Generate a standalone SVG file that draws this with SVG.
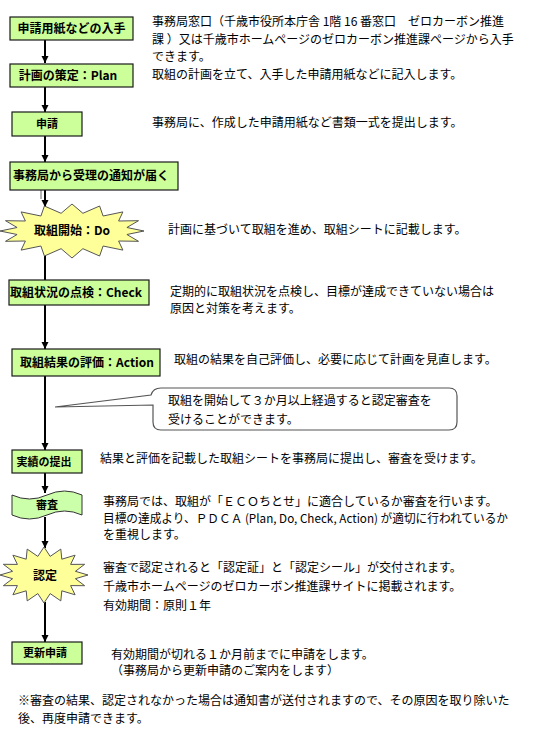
<svg xmlns="http://www.w3.org/2000/svg" width="534" height="729" viewBox="0 0 534 729">
<defs>
<marker id="arr" markerUnits="userSpaceOnUse" markerWidth="8" markerHeight="8" refX="7" refY="4" orient="auto">
<path d="M0,0.5 L7,4 L0,7.5 z" fill="#000"/>
</marker>
<style>
.box{fill:#ccff99;stroke:#1a1a1a;stroke-width:1.2}
.wave{fill:#ccffaa;stroke:#333;stroke-width:1}
.star{fill:#ffff99;stroke:#555;stroke-width:1}
.lbl{font-family:"Noto Sans CJK JP","Liberation Sans",sans-serif;font-weight:bold;font-size:12px;fill:#000;text-anchor:middle}
.sm{font-size:11px}
.t{font-family:"Noto Sans CJK JP","Liberation Sans",sans-serif;font-size:12px;fill:#000}
.con{stroke:#000;stroke-width:2;fill:none}
</style>
</defs>
<rect width="534" height="729" fill="#fff"/>

<g id="connectors">
<line class="con" x1="45" y1="40" x2="45" y2="63" marker-end="url(#arr)"/>
<line class="con" x1="45" y1="87" x2="45" y2="112" marker-end="url(#arr)"/>
<line class="con" x1="45" y1="136" x2="45" y2="162" marker-end="url(#arr)"/>
<line class="con" x1="45" y1="190" x2="45" y2="207" marker-end="url(#arr)"/>
<line x1="41" y1="188" x2="41" y2="199" stroke="#444" stroke-width="0.8"/>
<line class="con" x1="45" y1="256" x2="45" y2="280"/>
<line class="con" x1="45" y1="305" x2="45" y2="349" marker-end="url(#arr)"/>
<line class="con" x1="45" y1="376" x2="45" y2="450" marker-end="url(#arr)"/>
<line class="con" x1="45" y1="473" x2="45" y2="493" marker-end="url(#arr)"/>
<line class="con" x1="45" y1="517" x2="45" y2="548" marker-end="url(#arr)"/>
<line class="con" x1="45" y1="602" x2="45" y2="642" marker-end="url(#arr)"/>
</g>

<g id="n1">
<rect class="box" x="10" y="17" width="123" height="23"/>
<text class="lbl" x="71.5" y="33">申請用紙などの入手</text>
</g>
<g id="n2">
<rect class="box" x="10" y="64" width="123" height="23"/>
<text class="lbl" x="68" y="80">計画の策定：Plan</text>
</g>
<g id="n3">
<rect class="box" x="12" y="112" width="70" height="24"/>
<text class="lbl sm" x="47" y="128">申請</text>
</g>
<g id="n4">
<rect class="box" x="10" y="162" width="168" height="28"/>
<text class="lbl" x="91" y="180">事務局から受理の通知が届く</text>
</g>
<g id="n5">
<polygon class="star" points="144,231 126.9,234.5 138.5,241.3 118.6,241 122.9,250.1 103.1,246 99.6,256 82.9,248.7 72,258 61.1,248.7 44.4,256 40.9,246 21.1,250.1 25.4,241 5.5,241.3 17.1,234.5 0,231 17.1,227.5 5.5,220.7 25.4,221 21.1,211.9 40.9,216 44.4,206 61.1,213.3 72,204 82.9,213.3 99.6,206 103.1,216 122.9,211.9 118.6,221 138.5,220.7 126.9,227.5"/>
<text class="lbl" x="72" y="235">取組開始：Do</text>
</g>
<g id="n6">
<rect class="box" x="9" y="280" width="140" height="25"/>
<text class="lbl" x="76" y="297">取組状況の点検：Check</text>
</g>
<g id="n7">
<rect class="box" x="12" y="349" width="148" height="27"/>
<text class="lbl" x="87" y="367">取組結果の評価：Action</text>
</g>
<g id="callout">
<path d="M161,388 H449 Q457,388 457,396 V422 Q457,430 449,430 H161 Q153,430 153,422 V405 L55,407 L151,395 Q153,388 161,388 Z" fill="#fff" stroke="#555" stroke-width="1.2"/>
<text class="t" x="168" y="405">取組を開始して３か月以上経過すると認定審査を</text>
<text class="t" x="168" y="424">受けることができます。</text>
</g>
<g id="n8">
<rect class="box" x="12" y="450" width="70" height="23"/>
<text class="lbl sm" x="44" y="466">実績の提出</text>
</g>
<g id="n9">
<path class="wave" d="M12,495 Q29.5,503 47,495 T82,495 L82,515 Q64.5,507 47,515 T12,515 Z"/>
<text class="lbl sm" x="47" y="509">審査</text>
</g>
<g id="n10">
<polygon class="star" points="88,575 75.4,578.7 84.65,585.7 70.6,585.6 75.1,594.8 61.8,590.8 60.8,600.9 50.2,593.6 44,603 37.8,593.6 27.2,600.9 26.2,590.8 12.9,594.8 17.4,585.6 3.35,585.7 12.6,578.7 0,575 12.6,571.3 3.35,564.3 17.4,564.4 12.9,555.2 26.2,559.2 27.2,549.1 37.8,556.4 44,547 50.2,556.4 60.8,549.1 61.8,559.2 75.1,555.2 70.6,564.4 84.65,564.3 75.4,571.3"/>
<text class="lbl" x="45" y="580">認定</text>
</g>
<g id="n11">
<rect class="box" x="12" y="642" width="70" height="22"/>
<text class="lbl sm" x="45" y="657">更新申請</text>
</g>

<g id="texts">
<text class="t" x="152" y="26">事務局窓口（千歳市役所本庁舎 1階 16 番窓口　ゼロカーボン推進</text>
<text class="t" x="152" y="44">課 ）又は千歳市ホームページのゼロカーボン推進課ページから入手</text>
<text class="t" x="152" y="61">できます。</text>
<text class="t" x="152" y="79">取組の計画を立て、入手した申請用紙などに記入します。</text>
<text class="t" x="152" y="127">事務局に、作成した申請用紙など書類一式を提出します。</text>
<text class="t" x="168" y="234">計画に基づいて取組を進め、取組シートに記載します。</text>
<text class="t" x="170" y="296">定期的に取組状況を点検し、目標が達成できていない場合は</text>
<text class="t" x="170" y="313">原因と対策を考えます。</text>
<text class="t" x="174" y="364">取組の結果を自己評価し、必要に応じて計画を見直します。</text>
<text class="t" x="100" y="463">結果と評価を記載した取組シートを事務局に提出し、審査を受けます。</text>
<text class="t" x="103" y="506">事務局では、取組が「ＥＣＯちとせ」に適合しているか審査を行います。</text>
<text class="t" x="103" y="523" textLength="405" lengthAdjust="spacingAndGlyphs">目標の達成より、ＰＤＣＡ (Plan, Do, Check, Action) が適切に行われているか</text>
<text class="t" x="103" y="539">を重視します。</text>
<text class="t" x="103" y="572">審査で認定されると「認定証」と「認定シール」が交付されます。</text>
<text class="t" x="103" y="591">千歳市ホームページのゼロカーボン推進課サイトに掲載されます。</text>
<text class="t" x="103" y="610">有効期間：原則１年</text>
<text class="t" x="111" y="659">有効期間が切れる１か月前までに申請をします。</text>
<text class="t" x="111" y="675">（事務局から更新申請のご案内をします）</text>
<text class="t" x="18" y="705">※審査の結果、認定されなかった場合は通知書が送付されますので、その原因を取り除いた</text>
<text class="t" x="18" y="723">後、再度申請できます。</text>
</g>
</svg>
